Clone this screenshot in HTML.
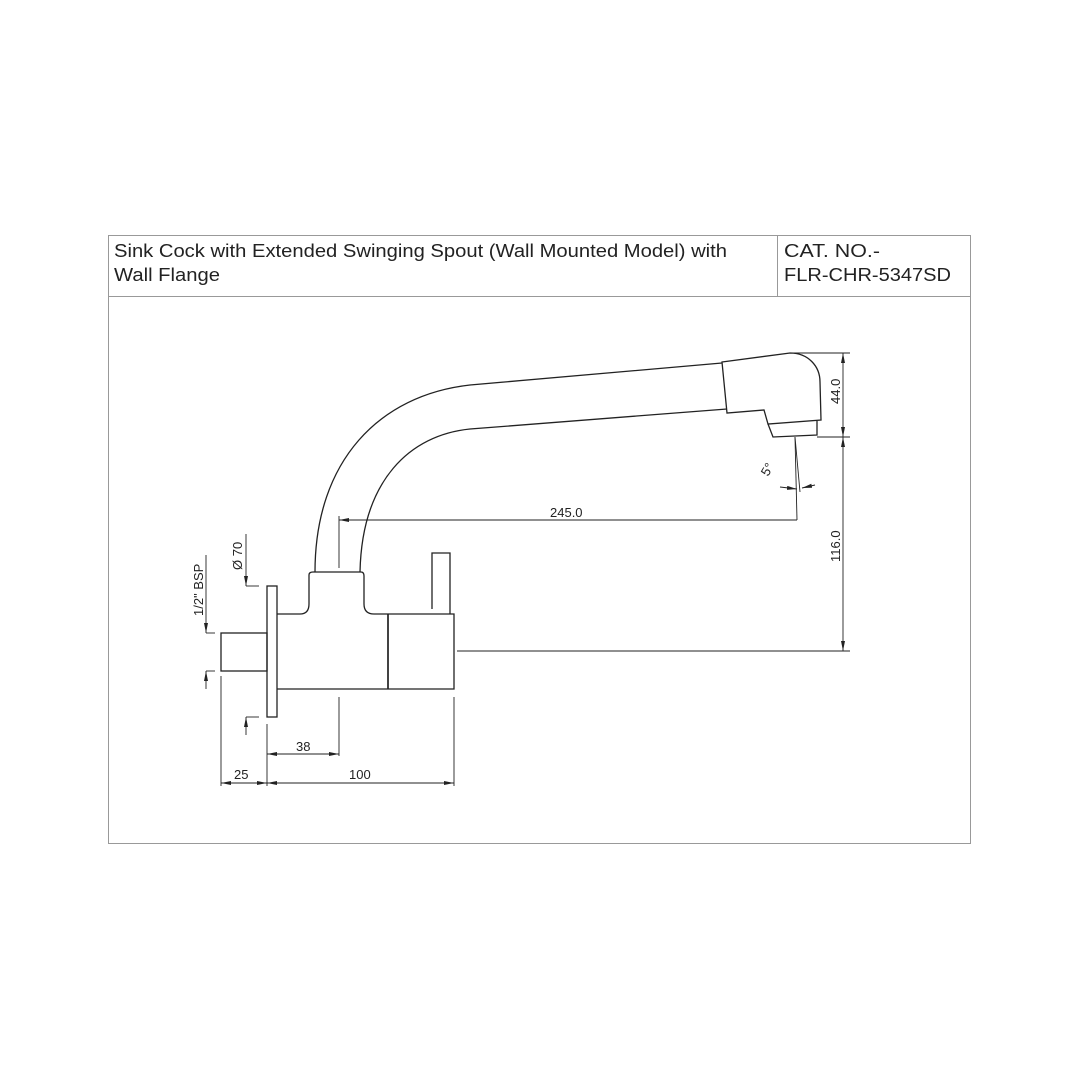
<!DOCTYPE html>
<html><head><style>
body{margin:0;background:#fff;}
svg{display:block}
text{font-family:"Liberation Sans",Arial,sans-serif;fill:#222}
</style></head><body>
<svg width="1080" height="1080" viewBox="0 0 1080 1080" xmlns="http://www.w3.org/2000/svg">
<defs>
<marker id="a" viewBox="0 0 10 6" refX="10" refY="3" markerWidth="10" markerHeight="6" orient="auto-start-reverse" markerUnits="userSpaceOnUse"><path d="M0,1 L10,3 L0,5z" fill="#222"/></marker>
</defs>
<g fill="none" stroke="#999" stroke-width="1">
<rect x="108.5" y="235.5" width="862" height="608"/>
<line x1="108" y1="296.5" x2="971" y2="296.5"/>
<line x1="777.5" y1="235" x2="777.5" y2="296"/>
</g>
<text x="114" y="257" font-size="18" textLength="613" lengthAdjust="spacingAndGlyphs">Sink Cock with Extended Swinging Spout (Wall Mounted Model) with</text>
<text x="114" y="281" font-size="18" textLength="106" lengthAdjust="spacingAndGlyphs">Wall Flange</text>
<text x="784" y="257" font-size="18" textLength="96" lengthAdjust="spacingAndGlyphs">CAT. NO.-</text>
<text x="784" y="281" font-size="18" textLength="167" lengthAdjust="spacingAndGlyphs">FLR-CHR-5347SD</text>

<g fill="none" stroke="#222" stroke-width="1.3">
<path d="M315,572 C315,460 380,395 470,385 L722,363"/>
<path d="M360,572 C362,480 410,435 470,429 L727,409"/>
<path d="M722,362 L790,353 C808,353 820,366 820,382 L821,420 L768,424 L764,410 L727,413 Z"/>
<path d="M768,424 L773,437 L817,435 L817,421"/>
<rect x="267" y="586" width="10" height="131"/>
<rect x="221" y="633" width="46" height="38"/>
<path d="M277,614 L300,614 Q309,614 309,604 L309,575 Q309,572 313,572 L361,572 Q364,572 364,576 L364,604 Q364,614 374,614 L454,614 L454,689 L277,689"/>
<line x1="388" y1="614" x2="388" y2="689" stroke-width="1.7"/>
<path d="M432,609 L432,553 L450,553 L450,614"/>
</g>

<g fill="none" stroke="#222" stroke-width="0.9">
<line x1="457" y1="651" x2="850" y2="651"/>
<line x1="790" y1="353" x2="850" y2="353"/>
<line x1="817" y1="437" x2="850" y2="437"/>
<line x1="843" y1="353" x2="843" y2="437" marker-start="url(#a)" marker-end="url(#a)"/>
<line x1="843" y1="437" x2="843" y2="651" marker-start="url(#a)" marker-end="url(#a)"/>
<line x1="339" y1="568" x2="339" y2="516"/>
<line x1="339" y1="520" x2="797" y2="520" marker-start="url(#a)"/>
<line x1="795" y1="437" x2="797" y2="520"/>
<line x1="795" y1="437" x2="800" y2="492"/>
<line x1="780" y1="487" x2="797" y2="489" marker-end="url(#a)"/>
<line x1="815" y1="485" x2="802" y2="488" marker-end="url(#a)"/>
<line x1="221" y1="676" x2="221" y2="786"/>
<line x1="267" y1="724" x2="267" y2="786"/>
<line x1="339" y1="697" x2="339" y2="756"/>
<line x1="454" y1="697" x2="454" y2="786"/>
<line x1="267" y1="754" x2="339" y2="754" marker-start="url(#a)" marker-end="url(#a)"/>
<line x1="221" y1="783" x2="267" y2="783" marker-start="url(#a)" marker-end="url(#a)"/>
<line x1="267" y1="783" x2="454" y2="783" marker-start="url(#a)" marker-end="url(#a)"/>
<line x1="246" y1="534" x2="246" y2="586" marker-end="url(#a)"/>
<line x1="246" y1="586" x2="259" y2="586"/>
<line x1="246" y1="735" x2="246" y2="717" marker-end="url(#a)"/>
<line x1="246" y1="717" x2="259" y2="717"/>
<line x1="206" y1="555" x2="206" y2="633" marker-end="url(#a)"/>
<line x1="206" y1="633" x2="215" y2="633"/>
<line x1="206" y1="689" x2="206" y2="671" marker-end="url(#a)"/>
<line x1="206" y1="671" x2="215" y2="671"/>
</g>

<g font-size="13">
<text x="550" y="517">245.0</text>
<text x="296" y="751">38</text>
<text x="234" y="779">25</text>
<text x="349" y="779">100</text>
<text transform="translate(840,404) rotate(-90)">44.0</text>
<text transform="translate(840,562) rotate(-90)">116.0</text>
<text transform="translate(242,570) rotate(-90)">Ø 70</text>
<text transform="translate(203,616) rotate(-90)">1/2" BSP</text>
<text transform="translate(768,477) rotate(-60)">5°</text>
</g>
</svg>
</body></html>
